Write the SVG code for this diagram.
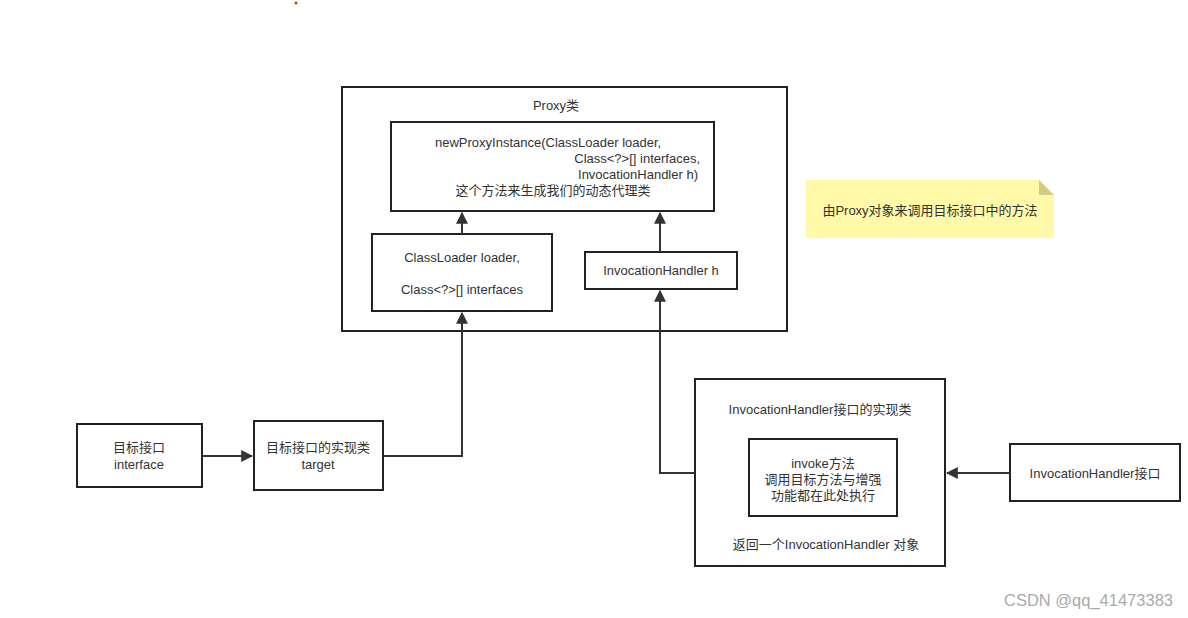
<svg xmlns="http://www.w3.org/2000/svg" width="1188" height="618" viewBox="0 0 1188 618">
<style>
.b{fill:#fff;stroke:#222;stroke-width:2}
.t{font-family:"Liberation Sans","Noto Sans CJK SC",sans-serif;font-size:13px;fill:#333;text-anchor:middle}
.c{fill:none;stroke:#333;stroke-width:2}
</style>
<defs>
<marker id="ar" viewBox="0 0 10 10" refX="9" refY="5" markerWidth="6" markerHeight="6" orient="auto" markerUnits="strokeWidth">
<path d="M0,0 L10,5 L0,10 z" fill="#333"/>
</marker>
</defs>
<rect width="1188" height="618" fill="#fff"/>
<circle cx="296" cy="3" r="1.5" fill="#d32"/>
<g id="proxy">
<rect class="b" x="342" y="87" width="445" height="244"/>
<text class="t" x="556" y="110">Proxy类</text>
</g>
<g id="newProxy">
<rect class="b" x="391" y="122" width="323" height="89"/>
<text class="t" x="435" y="147" style="text-anchor:start">newProxyInstance(ClassLoader loader,</text>
<text class="t" x="700" y="163" style="text-anchor:end">Class&lt;?&gt;[] interfaces,</text>
<text class="t" x="698" y="179" style="text-anchor:end">InvocationHandler h)</text>
<text class="t" x="553" y="195">这个方法来生成我们的动态代理类</text>
</g>
<g id="classloader">
<rect class="b" x="372" y="234" width="180" height="77"/>
<text class="t" x="462" y="262">ClassLoader loader,</text>
<text class="t" x="462" y="294">Class&lt;?&gt;[] interfaces</text>
</g>
<g id="ihh">
<rect class="b" x="585" y="252" width="152" height="37"/>
<text class="t" x="661" y="275">InvocationHandler h</text>
</g>
<g id="iface">
<rect class="b" x="77" y="424" width="125" height="63"/>
<text class="t" x="139" y="452">目标接口</text>
<text class="t" x="139" y="469">interface</text>
</g>
<g id="target">
<rect class="b" x="254" y="421" width="129" height="69"/>
<text class="t" x="318" y="452">目标接口的实现类</text>
<text class="t" x="318" y="469">target</text>
</g>
<g id="ihimpl">
<rect class="b" x="695" y="379" width="250" height="187"/>
<text class="t" x="820" y="414">InvocationHandler接口的实现类</text>
<text class="t" x="826" y="549">返回一个InvocationHandler 对象</text>
</g>
<g id="invoke">
<rect class="b" x="749" y="439" width="148" height="77"/>
<text class="t" x="823" y="468">invoke方法</text>
<text class="t" x="823" y="484">调用目标方法与增强</text>
<text class="t" x="823" y="500">功能都在此处执行</text>
</g>
<g id="ihiface">
<rect class="b" x="1010" y="444" width="170" height="57"/>
<text class="t" x="1095" y="478">InvocationHandler接口</text>
</g>
<g id="note">
<path d="M806,180 H1039 L1054,195 V238 H806 Z" fill="#fff9a8"/>
<path d="M1039,180 V195 H1054 Z" fill="#d2cc82"/>
<text class="t" x="930" y="215">由Proxy对象来调用目标接口中的方法</text>
</g>
<g id="connectors">
<path class="c" d="M462,234 V213" marker-end="url(#ar)"/>
<path class="c" d="M660,252 V213" marker-end="url(#ar)"/>
<path class="c" d="M202,456 H252" marker-end="url(#ar)"/>
<path class="c" d="M383,456 H462 V313" marker-end="url(#ar)"/>
<path class="c" d="M1010,473 H947" marker-end="url(#ar)"/>
<path class="c" d="M695,473 H660 V291" marker-end="url(#ar)"/>
</g>
<text x="1173" y="606" style="font-family:'Liberation Sans',sans-serif;font-size:16.5px;fill:#aaa;text-anchor:end">CSDN @qq_41473383</text>
</svg>
